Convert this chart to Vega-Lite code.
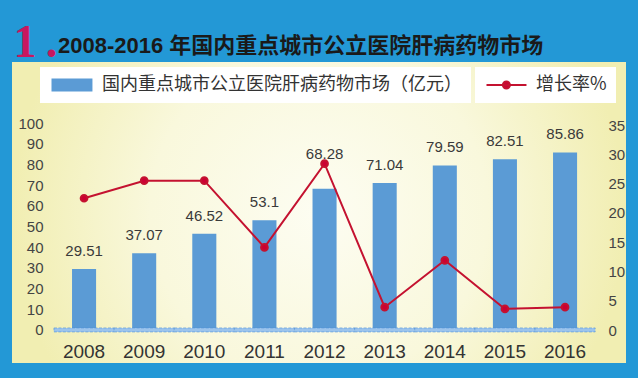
{
  "$schema": "https://vega.github.io/schema/vega-lite/v6.json",
  "width": 614,
  "height": 301,
  "autosize": {"type": "none"},
  "padding": {"left": 12, "top": 62, "right": 12, "bottom": 15},
  "background": "#2398d6",
  "config": {
    "view": {"stroke": null, "fill": {"gradient": "radial", "stops": [{"offset": 0, "color": "#fdfdf2"}, {"offset": 0.55, "color": "#f9f8dc"}, {"offset": 1, "color": "#f1eeb2"}]}},
    "font": "Liberation Sans, Noto Sans CJK SC"
  },
  "title": {
    "text": "2008-2016 年国内重点城市公立医院肝病药物市场",
    "anchor": "start",
    "frame": "group",
    "orient": "top",
    "dx": 46,
    "offset": -56,
    "baseline": "alphabetic",
    "font": "Liberation Sans, Noto Sans CJK SC",
    "fontSize": 22,
    "fontWeight": "bold",
    "color": "#1a1a1a"
  },
  "data": {
    "values": [
      {"year": "2008", "market": 29.51, "growth": 22.5},
      {"year": "2009", "market": 37.07, "growth": 25.5},
      {"year": "2010", "market": 46.52, "growth": 25.5},
      {"year": "2011", "market": 53.1, "growth": 14.1},
      {"year": "2012", "market": 68.28, "growth": 28.4},
      {"year": "2013", "market": 71.04, "growth": 3.9},
      {"year": "2014", "market": 79.59, "growth": 11.9},
      {"year": "2015", "market": 82.51, "growth": 3.6},
      {"year": "2016", "market": 85.86, "growth": 3.9}
    ]
  },
  "encoding": {
    "x": {
      "field": "year",
      "type": "nominal",
      "sort": null,
      "scale": {"paddingInner": 0.6, "paddingOuter": 0.906, "align": 0.551},
      "axis": {
        "orient": "bottom",
        "offset": -24,
        "title": null,
        "domain": false,
        "ticks": false,
        "tickSize": 0,
        "labelPadding": 3,
        "labelAngle": 0,
        "labelFontSize": 19,
        "labelColor": "#333333",
        "labelFont": "Liberation Sans"
      }
    }
  },
  "layer": [
    {
      "encoding": {
        "y": {
          "field": "market",
          "type": "quantitative",
          "scale": {"domain": [-16.0, 129.6], "nice": false, "zero": false},
          "axis": {
            "orient": "left",
            "offset": -33,
            "title": "1\u2009.",
            "titleFont": "Liberation Serif",
            "titleFontSize": 46,
            "titleFontWeight": "bold",
            "titleColor": "#c8175f",
            "titleAngle": 0,
            "titleAlign": "left",
            "titleBaseline": "top",
            "titleX": -32,
            "titleY": -42,
            "values": [0, 10, 20, 30, 40, 50, 60, 70, 80, 90, 100],
            "domain": false,
            "ticks": false,
            "tickSize": 0,
            "grid": false,
            "labelPadding": 2,
            "labelFontSize": 15,
            "labelColor": "#444444",
            "labelFont": "Liberation Sans"
          }
        }
      },
      "layer": [
        {
          "mark": {"type": "bar", "color": "#5b9bd5"},
          "encoding": {
            "y2": {"datum": 0},
            "fill": {
              "datum": "国内重点城市公立医院肝病药物市场（亿元）",
              "scale": {"range": ["#5b9bd5"]},
              "legend": {
                "orient": "none",
                "legendX": 28,
                "legendY": 5,
                "title": null,
                "padding": 9,
                "fillColor": "#ffffff",
                "symbolType": "M-1,-1L5.3,-1L5.3,1L-1,1Z",
                "symbolSize": 169,
                "symbolStrokeWidth": 0,
                "symbolFillColor": "#5b9bd5",
                "labelOffset": 35,
                "labelFontSize": 18,
                "labelFont": "Noto Sans CJK SC",
                "labelColor": "#333333",
                "labelLimit": 600,
                "labelExpr": "datum.label + '\u3000\u3000'"
              }
            }
          }
        },
        {
          "mark": {"type": "tick", "orient": "horizontal", "size": 60.2, "thickness": 4, "color": "#9cc4ec", "stroke": "#4e8fd6", "strokeWidth": 0.6, "strokeDash": [3, 1.5], "opacity": 1},
          "encoding": {"y": {"datum": 0}}
        },
        {
          "transform": [{"filter": "datum.year != '2012'"}],
          "mark": {"type": "text", "baseline": "alphabetic", "dy": -13, "fontSize": 15, "color": "#3a3a3a", "font": "Liberation Sans"},
          "encoding": {"text": {"field": "market", "type": "quantitative", "format": ""}}
        },
        {
          "transform": [{"filter": "datum.year == '2012'"}],
          "mark": {"type": "text", "baseline": "alphabetic", "dy": -30, "fontSize": 15, "color": "#3a3a3a", "font": "Liberation Sans"},
          "encoding": {"text": {"field": "market", "type": "quantitative", "format": ""}}
        }
      ]
    },
    {
      "mark": {"type": "line", "strokeWidth": 2, "point": {"filled": true, "size": 45, "color": "#cc0033"}},
      "encoding": {
        "y": {
          "field": "growth",
          "type": "quantitative",
          "scale": {"domain": [-5.63, 45.76], "nice": false, "zero": false},
          "axis": {
            "orient": "right",
            "offset": -20,
            "title": null,
            "values": [0, 5, 10, 15, 20, 25, 30, 35],
            "domain": false,
            "ticks": false,
            "tickSize": 0,
            "grid": false,
            "labelPadding": 2,
            "labelFontSize": 15,
            "labelColor": "#444444",
            "labelFont": "Liberation Sans"
          }
        },
        "stroke": {
          "datum": "增长率%",
          "scale": {"range": ["#c41230"]},
          "legend": {
            "orient": "none",
            "legendX": 463,
            "legendY": 5,
            "title": null,
            "padding": 9,
            "fillColor": "#ffffff",
            "symbolType": "M-1,0L5.15,0M2.6,0A0.54,0.54 0 1,1 1.52,0A0.54,0.54 0 1,1 2.6,0Z",
            "symbolSize": 169,
            "symbolStrokeWidth": 2,
            "symbolFillColor": "#cc0033",
            "labelOffset": 34,
            "labelFontSize": 18,
            "labelFont": "Noto Sans CJK SC",
            "labelColor": "#333333",
            "labelLimit": 300
          }
        }
      }
    }
  ],
  "resolve": {"scale": {"y": "independent"}}
}
